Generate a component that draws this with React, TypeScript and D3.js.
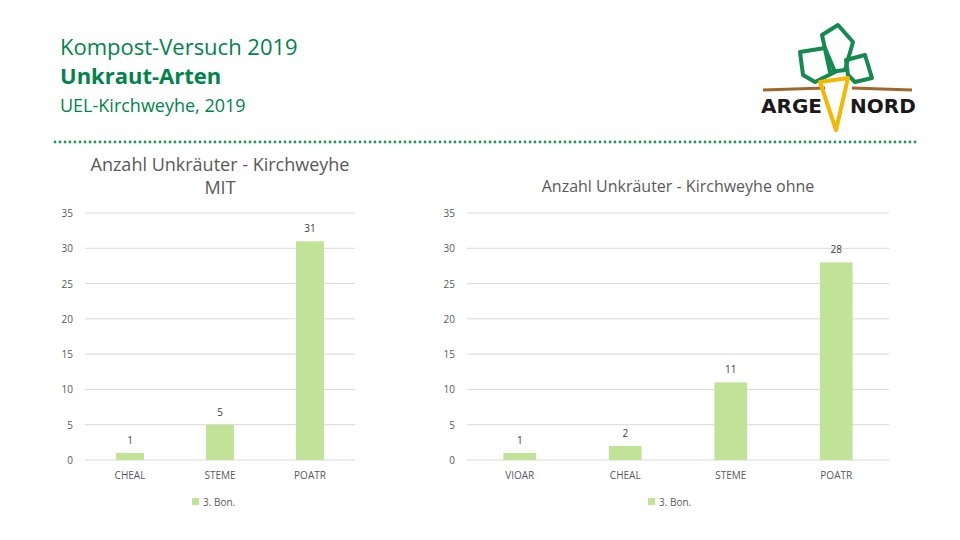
import * as d3 from "d3";
import React from "react";

const catsLeft = ["CHEAL", "STEME", "POATR"];
const valsLeft = [1, 5, 31];
const catsRight = ["VIOAR", "CHEAL", "STEME", "POATR"];
const valsRight = [1, 2, 11, 28];
const yTicks = [0, 5, 10, 15, 20, 25, 30, 35];
const seriesName = "3. Bon.";

const GREEN = "#00844a";
const BAR = "#c1e398";
const FONT = "'Open Sans', 'Noto Sans', Arial, sans-serif";

const Chart: React.FC<{
	cats: string[];
	vals: number[];
	x0: number;
	x1: number;
	titleLines: string[];
	titleY: number;
	titleSize: number;
	legendX: number;
}> = ({ cats, vals, x0, x1, titleLines, titleY, titleSize, legendX }) => {
	const y = d3.scaleLinear().domain([0, 35]).range([460, 213]);
	const x = d3.scaleBand().domain(cats).range([x0, x1]).paddingInner(0.69).paddingOuter(0.345);
	const cx = (x0 + x1) / 2;
	return (
		<g fontFamily={FONT}>
			{titleLines.map((t, i) => (
				<text key={i} x={cx} y={titleY + i * 23} textAnchor="middle" fontSize={titleSize} fill="#595959">
					{t}
				</text>
			))}
			{yTicks.map((t) => (
				<g key={t}>
					<line x1={x0} x2={x1} y1={y(t)} y2={y(t)} stroke="#d9d9d9" />
					<text x={x0 - 12} y={y(t) + 4} textAnchor="end" fontSize={10} fill="#595959">
						{t}
					</text>
				</g>
			))}
			{cats.map((c, i) => (
				<g key={c}>
					<rect x={x(c)} y={y(vals[i])} width={x.bandwidth()} height={y(0) - y(vals[i])} fill={BAR} />
					<text x={(x(c) || 0) + x.bandwidth() / 2} y={y(vals[i]) - 9} textAnchor="middle" fontSize={10} fill="#404040">
						{vals[i]}
					</text>
					<text x={(x(c) || 0) + x.bandwidth() / 2} y={479} textAnchor="middle" fontSize={10} fill="#595959">
						{c}
					</text>
				</g>
			))}
			<rect x={legendX} y={498} width={7} height={7} fill={BAR} />
			<text x={legendX + 11} y={506} fontSize={10} fill="#595959">
				{seriesName}
			</text>
		</g>
	);
};

const Logo = () => (
	<g>
		<g fill="none" stroke="#138a50" strokeWidth={4} strokeLinejoin="round">
			<path d="M800 52 L825 48 L835 72 L815 82 L803 75 Z" />
			<path d="M822 35 L838 25 L853 42 L845 70 L830 72 Z" />
			<path d="M846 60 L865 55 L872 78 L855 82 L848 75 Z" />
		</g>
		<path d="M763 90 L825 88 M852 88 L912 90" stroke="#a0662a" strokeWidth={3} />
		<path d="M820 82 L848 78 L836 130 Z" fill="none" stroke="#f5b800" strokeWidth={4} strokeLinejoin="round" />
		<text x={761} y={113} fontFamily="'DejaVu Sans', Arial, sans-serif" fontWeight="bold" fontSize={20} fill="#1a1a1a">ARGE</text>
		<text x={850} y={113} fontFamily="'DejaVu Sans', Arial, sans-serif" fontWeight="bold" fontSize={20} fill="#1a1a1a">NORD</text>
	</g>
);

export default function App() {
	const dots = d3.range(55, 916, 5);
	return (
		<svg width={960} height={540} style={{ position: "absolute", left: 0, top: 0, background: "#fff" }}>
			<rect width={960} height={540} fill="#fff" />
			<text x={60} y={55} fontFamily={FONT} fontSize={22} fill={GREEN}>Kompost-Versuch 2019</text>
			<text x={60} y={84} fontFamily={FONT} fontSize={22} fontWeight="bold" fill={GREEN}>Unkraut-Arten</text>
			<text x={60} y={112} fontFamily={FONT} fontSize={18} fill={GREEN}>UEL-Kirchweyhe,  2019</text>
			{dots.map((d) => (
				<circle key={d} cx={d} cy={142} r={1.4} fill="#1a9a50" />
			))}
			<Logo />
			<Chart cats={catsLeft} vals={valsLeft} x0={85} x1={355} titleLines={["Anzahl Unkräuter - Kirchweyhe", "MIT"]} titleY={171} titleSize={18} legendX={192} />
			<Chart cats={catsRight} vals={valsRight} x0={467} x1={889} titleLines={["Anzahl Unkräuter - Kirchweyhe ohne"]} titleY={192} titleSize={16} legendX={648} />
		</svg>
	);
}
